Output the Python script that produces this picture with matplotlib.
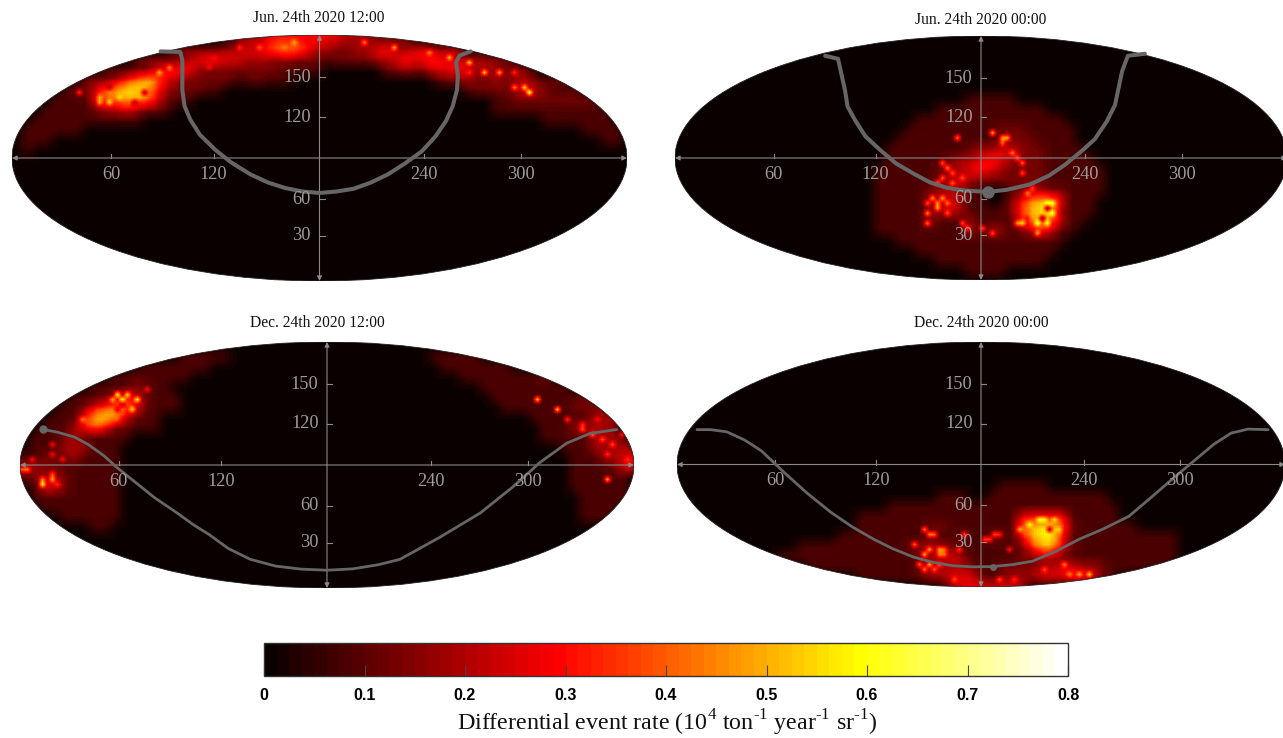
"""Differential event rate sky maps, four panels and a shared colour bar"""

import matplotlib.pyplot as plt
import numpy as np
from matplotlib.patches import Ellipse

plt.rcParams['font.family'] = ['Liberation Serif', 'DejaVu Serif']
plt.rcParams['mathtext.fontset'] = 'custom'
plt.rcParams['mathtext.rm'] = 'Liberation Serif'

WIDTH = 1283
HEIGHT = 738
GRAY = '#8a8a8a'
LABEL_GRAY = '#9c9c9c'
TRACK = '#666666'

# one digit per sky cell, the digit is an index into RATE_LEVELS
RATE_LEVELS = [0.01, 0.085, 0.13, 0.19, 0.26, 0.32, 0.42, 0.5, 0.58, 0.68]
N_COLS = 62
N_ROWS = 25

JUN_NOON = [
    "0000000000 0000000000 0023345554 5443332222",
    "0000000000 0000002222 2334456665 3322334533 4433300000",
    "0000000000 0012222345 5443332322 2122223345 4554433322",
    "0000000001 1122455532 2222222111 1000000223 2344543332 32",
    "0000000222 3567643222 2211211100 0000000000 0012232232 3321210000",
    "0000012246 7887532221 1000000000 0000000000 0000012222 3432111000",
    "0000111156 6766421100 0000000000 0000000000 0000000011 2222222210",
    "0001111123 3432210000 0000000000 0000000000 0000000011 1111111111",
    "0011111111 1110000000 0000000000 0000000000 0000000000 0001111111",
    "0111111000 0000000000 0000000000 0000000000 0000000000 0000000111 1",
    "0111000000 0000000000 0000000000 0000000000 0000000000 0000000001 1",
    "0100000000",
]

JUN_MIDNIGHT = [
    "", "", "", "", "", "",
    "0000000000 0000000000 0000000001 1111000000",
    "0000000000 0000000000 0000001111 1111111000",
    "0000000000 0000000000 0000111111 1111111110",
    "0000000000 0000000000 0001111111 1122211111",
    "0000000000 0000000000 0011111111 1122221111",
    "0000000000 0000000000 0111111112 3344322111 1",
    "0000000000 0000000000 0111111233 4543222111 11",
    "0000000000 0000000000 1111112334 5432222111 111",
    "0000000000 0000000000 1111112343 2222222111 111",
    "0000000000 0000000000 1111123331 1001233221 111",
    "0000000000 0000000000 1111133431 1002467751 11",
    "0000000000 0000000000 1111123431 1112578831 11",
    "0000000000 0000000000 1111131113 1111467641 1",
    "0000000000 0000000000 1111111113 1331235411",
    "0000000000 0000000000 0011111111 1111111110",
    "0000000000 0000000000 0000111111 1111111100",
    "0000000000 0000000000 0000001111 1111111000",
    "0000000000 0000000000 0000000001 1110000000",
]

DEC_NOON = [
    "",
    "0000000000 0000001111 1000000000 0000000000 0111110000",
    "0000000000 0011111110 0000000000 0000000000 0011111110",
    "0000000001 1211111000 0000000000 0000000000 0000111111 1120000000",
    "0000000111 1221100000 0000000000 0000000000 0000001111 1111100000",
    "0000011123 5421110000 0000000000 0000000000 0000000111 1111112100",
    "0000112456 6521110000 0000000000 0000000000 0000000011 1111122220",
    "0001115787 4211000000 0000000000 0000000000 0000000000 0111111333",
    "0011135652 2111000000 0000000000 0000000000 0000000000 0011133332",
    "0111231111 1000000000 0000000000 0000000000 0000000000 0011111333 10",
    "0111333111 0000000000 0000000000 0000000000 0000000000 0000111333 32",
    "1122231111 0000000000 0000000000 0000000000 0000000000 0000011133 44",
    "3322111111 0000000000 0000000000 0000000000 0000000000 0000011112 44",
    "2233211111 0000000000 0000000000 0000000000 0000000000 0000011111 10",
    "0144211111 0000000000 0000000000 0000000000 0000000000 0000011111 10",
    "0111111111 0000000000 0000000000 0000000000 0000000000 0000001111 1",
    "0011111111 0000000000 0000000000 0000000000 0000000000 0000001111",
    "0000111111 0000000000 0000000000 0000000000 0000000000 0000001110",
    "0000000110",
]

DEC_MIDNIGHT = [
    "", "", "", "", "", "", "", "", "", "", "", "", "", "",
    "0000000000 0000000000 0000000000 0011111000",
    "0000000000 0000000000 0000001110 0111111111 1110000000",
    "0000000000 0000000000 0111111111 1111111111 1111000000",
    "0000000000 0000000011 1111111111 1111455551 1111000000",
    "0000000000 0000000011 1111122111 1111678862 1111110000",
    "0000000000 0000001111 1111121121 1221478851 1111111111",
    "0000000000 0011111111 1112333211 1111257742 1111111111",
    "0000000000 1111111111 1111233431 1111223321 1111111111",
    "0000000000 0001111111 1111233332 1122223344 3321111110",
    "0000000000 0000000011 1111233444 2123334445 5421000000",
    "0000000000 0000000000 0000000344 4444300000",
]

# small hot and dark specks inside the cells, position in cell units
JUN_NOON_COL = [8.8, 9.8, 8.63, 10.8, 12.5, 13.5, 14.5, 15.8, 6.63, 20.1, 22.8, 24.8, 27.1, 28.3, 19.5, 9.8, 13.1, 12,
                35, 38.3, 41.5, 43.5, 45.5, 47.1, 48.6, 50.1, 45.6, 51, 51.8, 50]
JUN_NOON_ROW = [6, 6.67, 6.83, 6.33, 6, 4.67, 3.67, 3.33, 5.57, 2, 1.43, 1.33, 1.1, 0.83, 3, 5.17, 5.5, 6.5,
                0.93, 1.43, 1.67, 2.33, 2.67, 3.5, 3.6, 3.5, 3.67, 5.17, 5.67, 5.33]
JUN_NOON_VAL = [.5, .55, .5, .55, .5, .5, .5, .45, .35, .3, .35, .4, .45, .5, .3, .2, .2, .2,
                .45, .5, .45, .5, .55, .55, .5, .35, .35, .55, .65, .45]

JUN_MIDNIGHT_COL = [26.5, 27.33, 26.83, 27.83, 26.33, 28.5, 27.5, 25.67, 26.5, 26, 27.17, 26.33, 25.33, 25.43, 25,
                    27.17, 31.83, 32.5, 33.17, 32.5, 33.5, 34.17, 34.67, 34.83, 28.83, 29.17, 30.67, 31.67, 28,
                    37, 37.5, 37.67, 37.17, 36, 34.83, 34.17, 36.17, 35.17, 35.67, 37.17, 36.67, 35.33]
JUN_MIDNIGHT_ROW = [12.9, 13.4, 14.23, 13.73, 14.57, 14.23, 14.9, 16.07, 16.07, 16.9, 16.57, 17.13, 17.9, 18.83, 16.73,
                    17.57, 9.57, 10.07, 10.4, 10.9, 11.57, 12.07, 12.9, 13.73, 18.73, 19.23, 19.4, 19.9, 10.47,
                    16.57, 16.9, 17.9, 18.57, 18.9, 18.9, 18.73, 19.67, 15.73, 15.07, 17.4, 18.23, 18.23]
JUN_MIDNIGHT_VAL = [.42, .45, .42, .4, .45, .4, .42, .48, .5, .48, .45, .5, .48, .45, .42,
                    .42, .5, .48, .5, .42, .45, .42, .42, .4, .4, .4, .38, .4, .45,
                    .65, .65, .65, .62, .65, .55, .5, .5, .45, .4, .15, .15, .3]

DEC_NOON_COL = [9.67, 10.67, 11.5, 11.17, 10, 9.83, 8, 12.67, 6.17, 9, 10.33, 9.67,
                2.17, 3, 2.33, 3.83, 0.83, 0.33, 3.33, 4, 3.17, 1.33, 3.33,
                51.83, 53.5, 54.83, 56, 56.33, 57.67, 57, 58, 59, 58.67, 60.67, 58.6, 60]
DEC_NOON_ROW = [5.3, 5.3, 5.8, 6.63, 5.97, 7.97, 8.3, 4.73, 7.63, 5.63, 6.3, 6.8,
                14.47, 13.97, 13.63, 14.13, 12.97, 12.63, 11.47, 11.8, 10.47, 11.97, 13.3,
                5.87, 6.97, 7.63, 8.13, 8.8, 7.8, 9.47, 9.8, 10.47, 11.47, 11.8, 13.63, 9.47]
DEC_NOON_VAL = [.6, .55, .6, .55, .6, .4, .4, .3, .45, .5, .2, .25,
                .6, .5, .45, .35, .45, .4, .3, .3, .3, .3, .4,
                .55, .55, .35, .35, .4, .3, .45, .4, .4, .35, .35, .5, .3]

DEC_MIDNIGHT_COL = [24.8, 25.8, 25.3, 23.8, 25, 26, 26.8, 24.63, 26, 26.63, 24.13, 25.3, 26.3, 24.63, 25.63,
                    28.8, 30.63, 31.63, 31, 32.13, 28.3, 33.3,
                    35.3, 36.13, 36.97, 37.97, 34.47, 38.3, 37.97, 37.3,
                    36.97, 38.63, 40.3, 41.3, 39, 27.63, 32, 33.6]
DEC_MIDNIGHT_ROW = [18.8, 19.3, 19, 20.47, 20.63, 20.63, 20.63, 21.47, 21.47, 21.47, 22.13, 22.13, 22.47, 22.8, 22.97,
                    19.3, 19.63, 19.13, 19.97, 19.47, 20.97, 20.63,
                    18.13, 17.8, 17.8, 17.97, 18.8, 18.97, 19.8, 18.8,
                    22.63, 22.47, 23.13, 23.07, 23.3, 23.63, 23.97, 23.8]
DEC_MIDNIGHT_VAL = [.45, .42, .45, .42, .5, .48, .42, .5, .45, .42, .42, .5, .42, .45, .42,
                    .38, .36, .38, .36, .34, .36, .32,
                    .6, .62, .6, .55, .5, .55, .5, .2,
                    .4, .45, .5, .55, .45, .4, .4, .35]

# gray track over each panel, longitude and height in the panel's own degrees
JUN_NOON_LON = [87, 98.5, 99.7, 99.7, 101, 104.4, 110, 119, 128, 139.6, 150, 160, 170, 180, 190, 200, 210, 220, 230,
                240, 248, 254, 258, 260.5, 261, 260, 262, 268.5]
JUN_NOON_LAT = [168, 167.6, 161.7, 140, 128, 118, 107, 96, 87, 78, 72, 68, 65.5, 64.4, 65.5, 67.5, 72, 78, 86,
                95, 106, 117, 128, 140, 150, 160, 165, 168]
JUN_MIDNIGHT_LON = [88.3, 95.9, 100, 101.5, 105.9, 112, 120.6, 130, 141, 150, 160, 170, 184, 195, 208.8, 220, 229.4,
                    240, 247, 254, 258.8, 261, 263, 266.4, 276.4]
JUN_MIDNIGHT_LAT = [165.4, 163.2, 140, 128, 118, 106, 96, 86, 78, 72, 68, 66, 65, 66.5, 70.5, 77, 85,
                    96, 104, 117, 129, 142, 154, 165.4, 166.9]
DEC_NOON_LON = [13.5, 22, 31.8, 40, 49, 57, 66, 79, 92, 102, 111, 122, 135, 150, 165, 180, 195, 210, 222.8, 246,
                270, 289, 305, 320.6, 334, 350]
DEC_NOON_LAT = [116, 114, 110.5, 105, 97, 88, 79, 66, 55, 46, 39, 29, 21, 16, 13.8, 13, 14, 17, 21, 37,
                55, 74, 92, 106, 113, 116]
DEC_MIDNIGHT_LON = [11.8, 20, 29.5, 40, 50, 63.6, 77, 91, 104, 116.6, 128, 140, 152, 163.5, 175, 187, 199, 210.6, 224,
                    238, 253, 267.6, 280, 293, 307, 318, 328, 338, 350]
DEC_MIDNIGHT_LAT = [115.6, 115.6, 114, 108, 100, 84, 69, 55, 44, 35, 28, 22, 18, 15.6, 14.8, 15, 16.5, 19, 26,
                    35, 43, 52, 65, 79, 93.6, 105, 113, 116, 115.6]

LON_TICKS = [58, 118, 241, 298]
LON_LABELS = ['60', '120', '240', '300']
LAT_TICKS = [149, 120, 60, 33]
LAT_LABELS = ['150', '120', '60', '30']

CBAR_TICKS = [0, 0.1, 0.2, 0.3, 0.4, 0.5, 0.6, 0.7, 0.8]
CBAR_LABELS = ['0', '0.1', '0.2', '0.3', '0.4', '0.5', '0.6', '0.7', '0.8']


def soften(grid):
    padded = np.pad(grid, 1, mode='edge')
    return np.lib.stride_tricks.sliding_window_view(padded, (3, 3)).mean(axis=(2, 3))


def build_grid(rows, spots):
    grid = np.full((N_ROWS, N_COLS), RATE_LEVELS[0])
    for j, row in enumerate(rows):
        digits = row.replace(' ', '')
        for i, d in enumerate(digits):
            grid[j, i] = RATE_LEVELS[int(d)]
    # specks are half a cell wide, so go to a grid twice as fine
    fine = np.repeat(np.repeat(grid, 2, axis=0), 2, axis=1)
    fine = soften(fine)
    for col, row, val in zip(*spots):
        fine[int(row * 2), int(col * 2)] = val
    return fine


def add_axes_px(left, top, right, bottom):
    return fig.add_axes([left / WIDTH, 1 - bottom / HEIGHT,
                         (right - left) / WIDTH, (bottom - top) / HEIGHT])


def draw_panel(box, title, title_xy, rows, spots, lon, lat, line_w, dot_at, dot_size):
    ax = add_axes_px(*box)
    step_x = 10 * 360 / (box[2] - box[0])
    step_y = 10 * 180 / (box[3] - box[1])
    im = ax.imshow(build_grid(rows, spots), cmap=HOT, vmin=0, vmax=0.8, aspect='auto',
                   interpolation='bilinear', origin='upper', zorder=0,
                   extent=(0, N_COLS * step_x, 180 - N_ROWS * step_y, 180))
    ax.set_xlim(0, 360)
    ax.set_ylim(0, 180)
    ax.axis('off')
    edge = Ellipse((180, 90), 360, 180, transform=ax.transData, fill=False, lw=0.6, ec='#222222')
    ax.add_patch(edge)
    im.set_clip_path(edge)

    for args in [((0, 90), (360, 90)), ((180, 0), (180, 180))]:
        ax.annotate('', xy=args[1], xytext=args[0], annotation_clip=False, zorder=2,
                    arrowprops=dict(arrowstyle='<|-|>', color=GRAY, lw=0.8,
                                    mutation_scale=7, shrinkA=0, shrinkB=0))
    for x, label in zip(LON_TICKS, LON_LABELS):
        ax.plot([x, x], [90, 93], color=GRAY, lw=0.8, zorder=2)
        ax.text(x, 78, label, color=LABEL_GRAY, fontsize=13.2, ha='center', va='center', zorder=3)
    for y, label in zip(LAT_TICKS, LAT_LABELS):
        ax.plot([180, 183], [y, y], color=GRAY, lw=0.8, zorder=2)
        ax.text(175, y, label, color=LABEL_GRAY, fontsize=13.2, ha='right', va='center', zorder=3)

    ax.plot(lon, lat, color=TRACK, lw=line_w, solid_capstyle='round', solid_joinstyle='round', zorder=2)
    if dot_at is not None:
        ax.plot(lon[dot_at], lat[dot_at], 'o', color=TRACK, ms=dot_size, mec='none', zorder=2)

    fig.text(title_xy[0] / WIDTH, 1 - title_xy[1] / HEIGHT, title, fontsize=11.2,
             ha='center', va='center', color='#111111')
    return im


HOT = plt.get_cmap('hot', 64)
fig = plt.figure(figsize=(WIDTH / 100, HEIGHT / 100), dpi=100)

draw_panel((12, 35, 627, 281), 'Jun. 24th 2020 12:00', (319, 18), JUN_NOON,
           (JUN_NOON_COL, JUN_NOON_ROW, JUN_NOON_VAL), JUN_NOON_LON, JUN_NOON_LAT, 2.9, None, 0)
draw_panel((675, 36, 1287, 280), 'Jun. 24th 2020 00:00', (981, 20), JUN_MIDNIGHT,
           (JUN_MIDNIGHT_COL, JUN_MIDNIGHT_ROW, JUN_MIDNIGHT_VAL), JUN_MIDNIGHT_LON, JUN_MIDNIGHT_LAT, 2.9, 12, 9)
draw_panel((20, 342, 634, 588), 'Dec. 24th 2020 12:00', (317, 323), DEC_NOON,
           (DEC_NOON_COL, DEC_NOON_ROW, DEC_NOON_VAL), DEC_NOON_LON, DEC_NOON_LAT, 2.0, 0, 6)
im = draw_panel((677, 342, 1285, 587), 'Dec. 24th 2020 00:00', (981, 323), DEC_MIDNIGHT,
                (DEC_MIDNIGHT_COL, DEC_MIDNIGHT_ROW, DEC_MIDNIGHT_VAL), DEC_MIDNIGHT_LON, DEC_MIDNIGHT_LAT,
                2.0, 15, 5)

cax = add_axes_px(264, 643, 1068, 676)
cbar = fig.colorbar(im, cax=cax, orientation='horizontal', ticks=CBAR_TICKS)
cbar.ax.set_xticklabels(CBAR_LABELS, family='Liberation Sans', fontweight='bold', fontsize=11.5)
cbar.ax.tick_params(direction='in', length=8, width=0.8, color='#444444', pad=9)
cbar.outline.set_edgecolor('#333333')
cbar.outline.set_linewidth(1.0)

fig.text(667 / WIDTH, 1 - 723 / HEIGHT,
         r'Differential event rate (10$^{4}$ ton$^{\text{-1}}$ year$^{\text{-1}}$ sr$^{\text{-1}}$)',
         fontsize=17.3, ha='center', va='center', color='#111111')

fig.savefig('out.png', dpi=100)
